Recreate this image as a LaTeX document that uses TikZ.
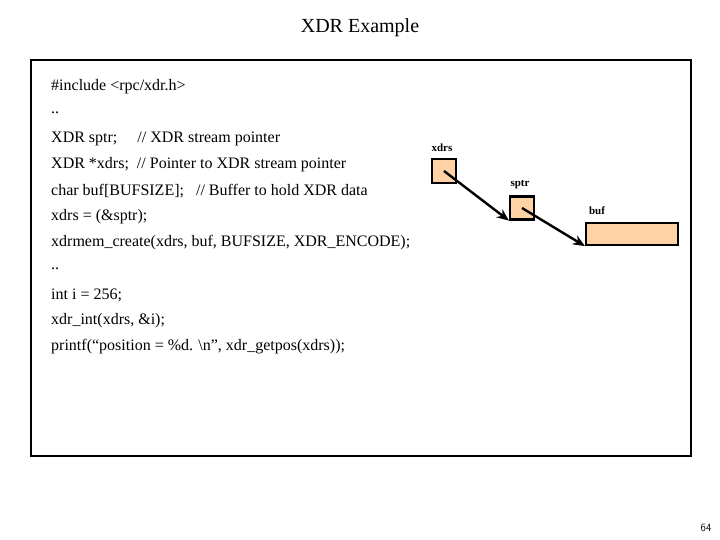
\documentclass[tikz,border=0pt]{standalone}
\usepackage{fontspec}
\setmainfont{Liberation Serif}
\usetikzlibrary{arrows.meta}
\begin{document}
\begin{tikzpicture}[x=1pt,y=-1pt,
  cell/.style={draw,line width=2.2pt,fill=orange!35!white,inner sep=0pt},
  lab/.style={font=\fontsize{11}{13}\selectfont\bfseries,inner sep=0pt},
  ptr/.style={line width=2.4pt,-{Stealth[length=12pt,width=10pt]}},
  code/.style={anchor=west,font=\fontsize{16}{18}\selectfont,inner sep=0pt}]
\useasboundingbox (0,0) rectangle (720,540);
\node[font=\fontsize{20}{24}\selectfont] (title) at (360,28) {XDR Example};
\draw[line width=2pt] (31,60) rectangle (691,456);
\foreach \t [count=\i from 0] in {\#include <rpc/xdr.h>,..,XDR sptr;\quad\  // XDR stream pointer,XDR *xdrs;\ \ // Pointer to XDR stream pointer,char buf[BUFSIZE];\ \ \ // Buffer to hold XDR data,xdrs = (\&sptr);,{xdrmem\_create(xdrs, buf, BUFSIZE, XDR\_ENCODE);},..,int i = 256;,{xdr\_int(xdrs, \&i);},{printf(“position = \%d. \textbackslash n”, xdr\_getpos(xdrs));}}
  \node[code] (l\i) at (51,87+26*\i) {\t};
\node[cell,minimum width=24pt,minimum height=24pt] (xdrs) at (444,171) {};
\node[cell,minimum width=24pt,minimum height=23pt] (sptr) at (522,208) {};
\node[cell,minimum width=92pt,minimum height=22pt] (buf) at (632,234) {};
\node[lab] (xl) at (442,148) {xdrs};
\node[lab] (sl) at (520,185) {sptr};
\node[lab] (bl) at (597,211) {buf};
\draw[ptr] (xdrs.center) -- (sptr.south west);
\draw[ptr] (sptr.center) -- (buf.south west);
\node[font=\fontsize{11}{13}\selectfont\sffamily] (pg) at (706,528) {64};
\end{tikzpicture}
\end{document}
